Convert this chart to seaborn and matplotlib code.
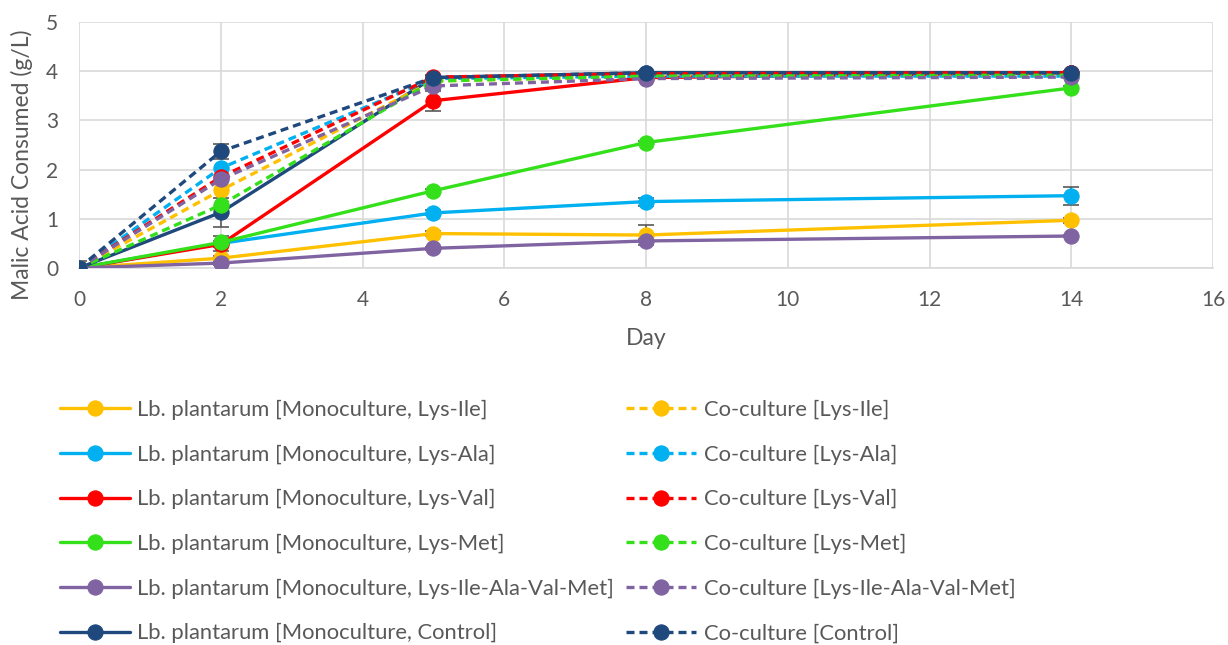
import numpy as np
import pandas as pd
import matplotlib
matplotlib.use("Agg")
import matplotlib.pyplot as plt
import seaborn as sns

days = [0, 2, 5, 8, 14]
treatments = ["Lys-Ile", "Lys-Ala", "Lys-Val", "Lys-Met", "Lys-Ile-Ala-Val-Met", "Control"]
colors = ["#FFC000", "#00B0F0", "#FF0000", "#33E01A", "#8064A2", "#1F497D"]

mono_ile = [0.0, 0.20, 0.70, 0.67, 0.97]
mono_ala = [0.0, 0.50, 1.12, 1.35, 1.47]
mono_val = [0.0, 0.48, 3.40, 3.87, 3.97]
mono_met = [0.0, 0.52, 1.57, 2.55, 3.66]
mono_mix = [0.0, 0.10, 0.40, 0.55, 0.65]
mono_ctl = [0.0, 1.13, 3.87, 3.97, 3.97]

co_ile = [0.0, 1.58, 3.80, 3.90, 3.92]
co_ala = [0.0, 2.03, 3.85, 3.90, 3.90]
co_val = [0.0, 1.85, 3.88, 3.95, 3.97]
co_met = [0.0, 1.28, 3.80, 3.90, 3.92]
co_mix = [0.0, 1.80, 3.70, 3.85, 3.88]
co_ctl = [0.0, 2.37, 3.87, 3.97, 3.97]

mono_err_ile = [0.0, 0.05, 0.05, 0.20, 0.05]
mono_err_ala = [0.0, 0.15, 0.05, 0.08, 0.18]
mono_err_val = [0.0, 0.05, 0.20, 0.05, 0.03]
mono_err_met = [0.0, 0.03, 0.03, 0.03, 0.03]
mono_err_mix = [0.0, 0.03, 0.03, 0.03, 0.03]
mono_err_ctl = [0.15, 0.30, 0.05, 0.03, 0.03]
co_err_ctl = [0.0, 0.15, 0.05, 0.03, 0.03]

mono = [mono_ile, mono_ala, mono_val, mono_met, mono_mix, mono_ctl]
co = [co_ile, co_ala, co_val, co_met, co_mix, co_ctl]
mono_err = [mono_err_ile, mono_err_ala, mono_err_val, mono_err_met, mono_err_mix, mono_err_ctl]

sns.set_theme(style="white")
plt.rcParams['font.family'] = ['Lato', 'DejaVu Sans']
txt = "#595959"

fig = plt.figure(figsize=(12.28, 6.45), dpi=100)
ax = fig.add_axes([79/1228, 1-268/645, (1213-79)/1228, (268-22)/645])

ebkw = dict(fmt='none', ecolor="#595959", elinewidth=1.2, capsize=6, capthick=1.2, zorder=2)
for ys, es in zip(mono, mono_err):
    ax.errorbar(days, ys, yerr=es, **ebkw)
ax.errorbar(days, co_ctl, yerr=co_err_ctl, **ebkw)

for t, c, ys in zip(treatments, colors, mono):
    sns.lineplot(x=days, y=ys, ax=ax, color=c, lw=2.4, marker='o', markersize=11,
                 markeredgecolor=c, label="Lb. plantarum [Monoculture, %s]" % t, zorder=3)
for t, c, ys in zip(treatments, colors, co):
    sns.lineplot(x=days, y=ys, ax=ax, color=c, lw=2.4, marker='o', markersize=11,
                 markeredgecolor=c, label="Co-culture [%s]" % t, zorder=3,
                 linestyle=(0, (2.4, 1.5)))

h, lab = ax.get_legend_handles_labels()
ax.get_legend().remove()

ax.set_xlim(0, 16)
ax.set_ylim(0, 5)
ax.set_xticks(range(0, 17, 2))
ax.set_yticks(range(0, 6))
ax.grid(True, color="#D9D9D9", lw=1.2)
for s in ["top", "right", "left"]:
    ax.spines[s].set_visible(False)
ax.spines["bottom"].set_color("#D9D9D9")
ax.spines["bottom"].set_linewidth(1.2)
ax.tick_params(axis='both', colors=txt, labelsize=15, length=0)
ax.tick_params(axis='x', pad=16)
ax.tick_params(axis='y', pad=15)
ax.set_xlabel("Day", fontsize=16.5, color=txt, labelpad=13)
ax.set_ylabel("Malic Acid Consumed (g/L)", fontsize=16.5, color=txt)
ax.yaxis.set_label_coords(-0.041, 0.42)

leg = fig.legend(h, lab, ncol=2, loc="upper left", bbox_to_anchor=(40/1228, 1-380/645),
                 frameon=False, fontsize=15.8, handlelength=3.2, labelspacing=1.12,
                 columnspacing=0.55, handletextpad=0.33, labelcolor=txt)

fig.savefig("out.png", dpi=100)
